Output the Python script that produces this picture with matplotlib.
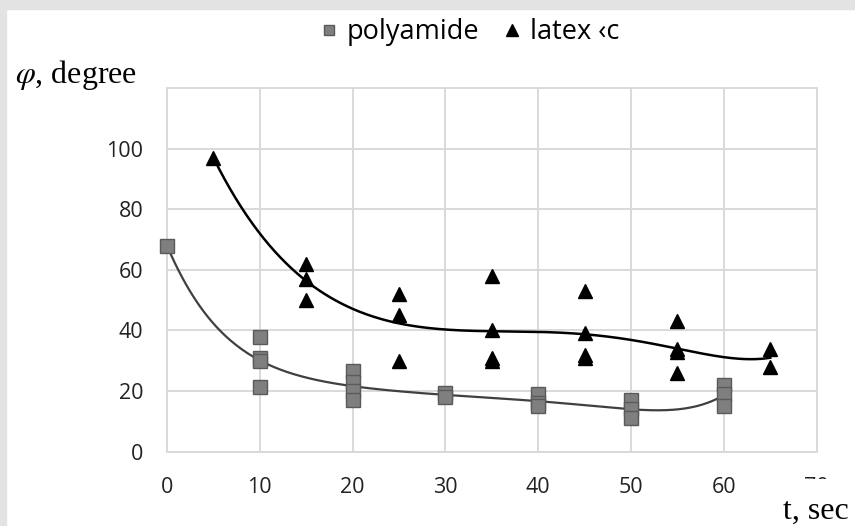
import numpy as np
import matplotlib
matplotlib.use("Agg")
import matplotlib.pyplot as plt
from matplotlib.lines import Line2D
from matplotlib.patches import Rectangle

# data
poly_x = [0, 10, 10, 10, 10, 20, 20, 20, 20, 30, 30, 40, 40, 40, 50, 50, 50, 60, 60, 60]
poly_y = [68, 38, 31, 30, 21.5, 26.5, 23, 20, 17, 19.5, 18, 19, 16, 15, 17, 14, 11, 22, 19, 15]

latex_x = [5, 15, 15, 15, 25, 25, 25, 35, 35, 35, 35, 45, 45, 45, 45, 55, 55, 55, 55, 65, 65]
latex_y = [97, 62, 57, 50, 52, 45, 30, 58, 40, 31, 30, 53, 39, 32, 31, 43, 34, 33, 26, 34, 28]

x_ticks = [0, 10, 20, 30, 40, 50, 60, 70]
y_ticks = [0, 20, 40, 60, 80, 100]

grid_col = "#d9d9d9"
tick_font = "Open Sans"

fig = plt.figure(figsize=(8.55, 5.26), dpi=100)
# grey frame strips of the screenshot
fig.patches.append(Rectangle((0, 1 - 9 / 526), 1, 9 / 526, transform=fig.transFigure,
                             color="#e3e3e3", zorder=0))
fig.patches.append(Rectangle((0, 0), 6 / 855, 1, transform=fig.transFigure,
                             color="#e3e3e3", zorder=0))

ax = fig.add_axes([167 / 855, 74.3 / 526, 649.7 / 855, 363.7 / 526])

# polynomial trend lines (like the spreadsheet trendline)
pc = np.polyfit(poly_x, poly_y, 6)
xs = np.linspace(min(poly_x), max(poly_x), 300)
ax.plot(xs, np.polyval(pc, xs), color="#404040", lw=1.6, zorder=2)

lc = np.polyfit(latex_x, latex_y, 6)
xs2 = np.linspace(min(latex_x), max(latex_x), 300)
ax.plot(xs2, np.polyval(lc, xs2), color="black", lw=1.8, zorder=2)

ax.plot(poly_x, poly_y, "s", ms=9.5, mfc="#7f7f7f", mec="#5a5a5a", mew=1, ls="none",
        zorder=3, clip_on=False)
ax.plot(latex_x, latex_y, "^", ms=10.5, color="black", ls="none", zorder=4, clip_on=False)

ax.set_xlim(0, 70)
ax.set_ylim(0, 120)
ax.set_xticks(x_ticks)
ax.set_yticks(y_ticks)
ax.grid(True, color=grid_col, lw=1.4)
ax.set_axisbelow(True)
for s in ax.spines.values():
    s.set_color(grid_col)
    s.set_linewidth(1.4)
ax.tick_params(length=0, labelsize=15.5, colors="#222222")
ax.tick_params(axis="x", pad=18)
ax.tick_params(axis="y", pad=17)
for lab in ax.get_xticklabels() + ax.get_yticklabels():
    lab.set_fontfamily(tick_font)

# axis titles (serif)
fig.text(15 / 855, 1 - 75 / 526, r"$\varphi$, degree", fontsize=23, family="Liberation Serif",
         math_fontfamily="stix", va="center", ha="left")
fig.text(783 / 855, 1 - 511 / 526, "t, sec", fontsize=23, family="Liberation Serif",
         va="center", ha="left", zorder=5,
         bbox=dict(facecolor="white", edgecolor="none", boxstyle="square,pad=0.55"))

handles = [Line2D([], [], marker="s", ls="none", ms=7, mfc="#7f7f7f", mec="#5a5a5a"),
           Line2D([], [], marker="^", ls="none", ms=8, color="black")]
fig.legend(handles, ["polyamide", "latex \u2039c"], loc="center", ncol=2,
           bbox_to_anchor=(470 / 855, 1 - 32 / 526), frameon=False,
           prop={"family": tick_font, "size": 19.5}, handlelength=0.6,
           handletextpad=0.35, columnspacing=0.9)

fig.savefig("out.png", dpi=100)
